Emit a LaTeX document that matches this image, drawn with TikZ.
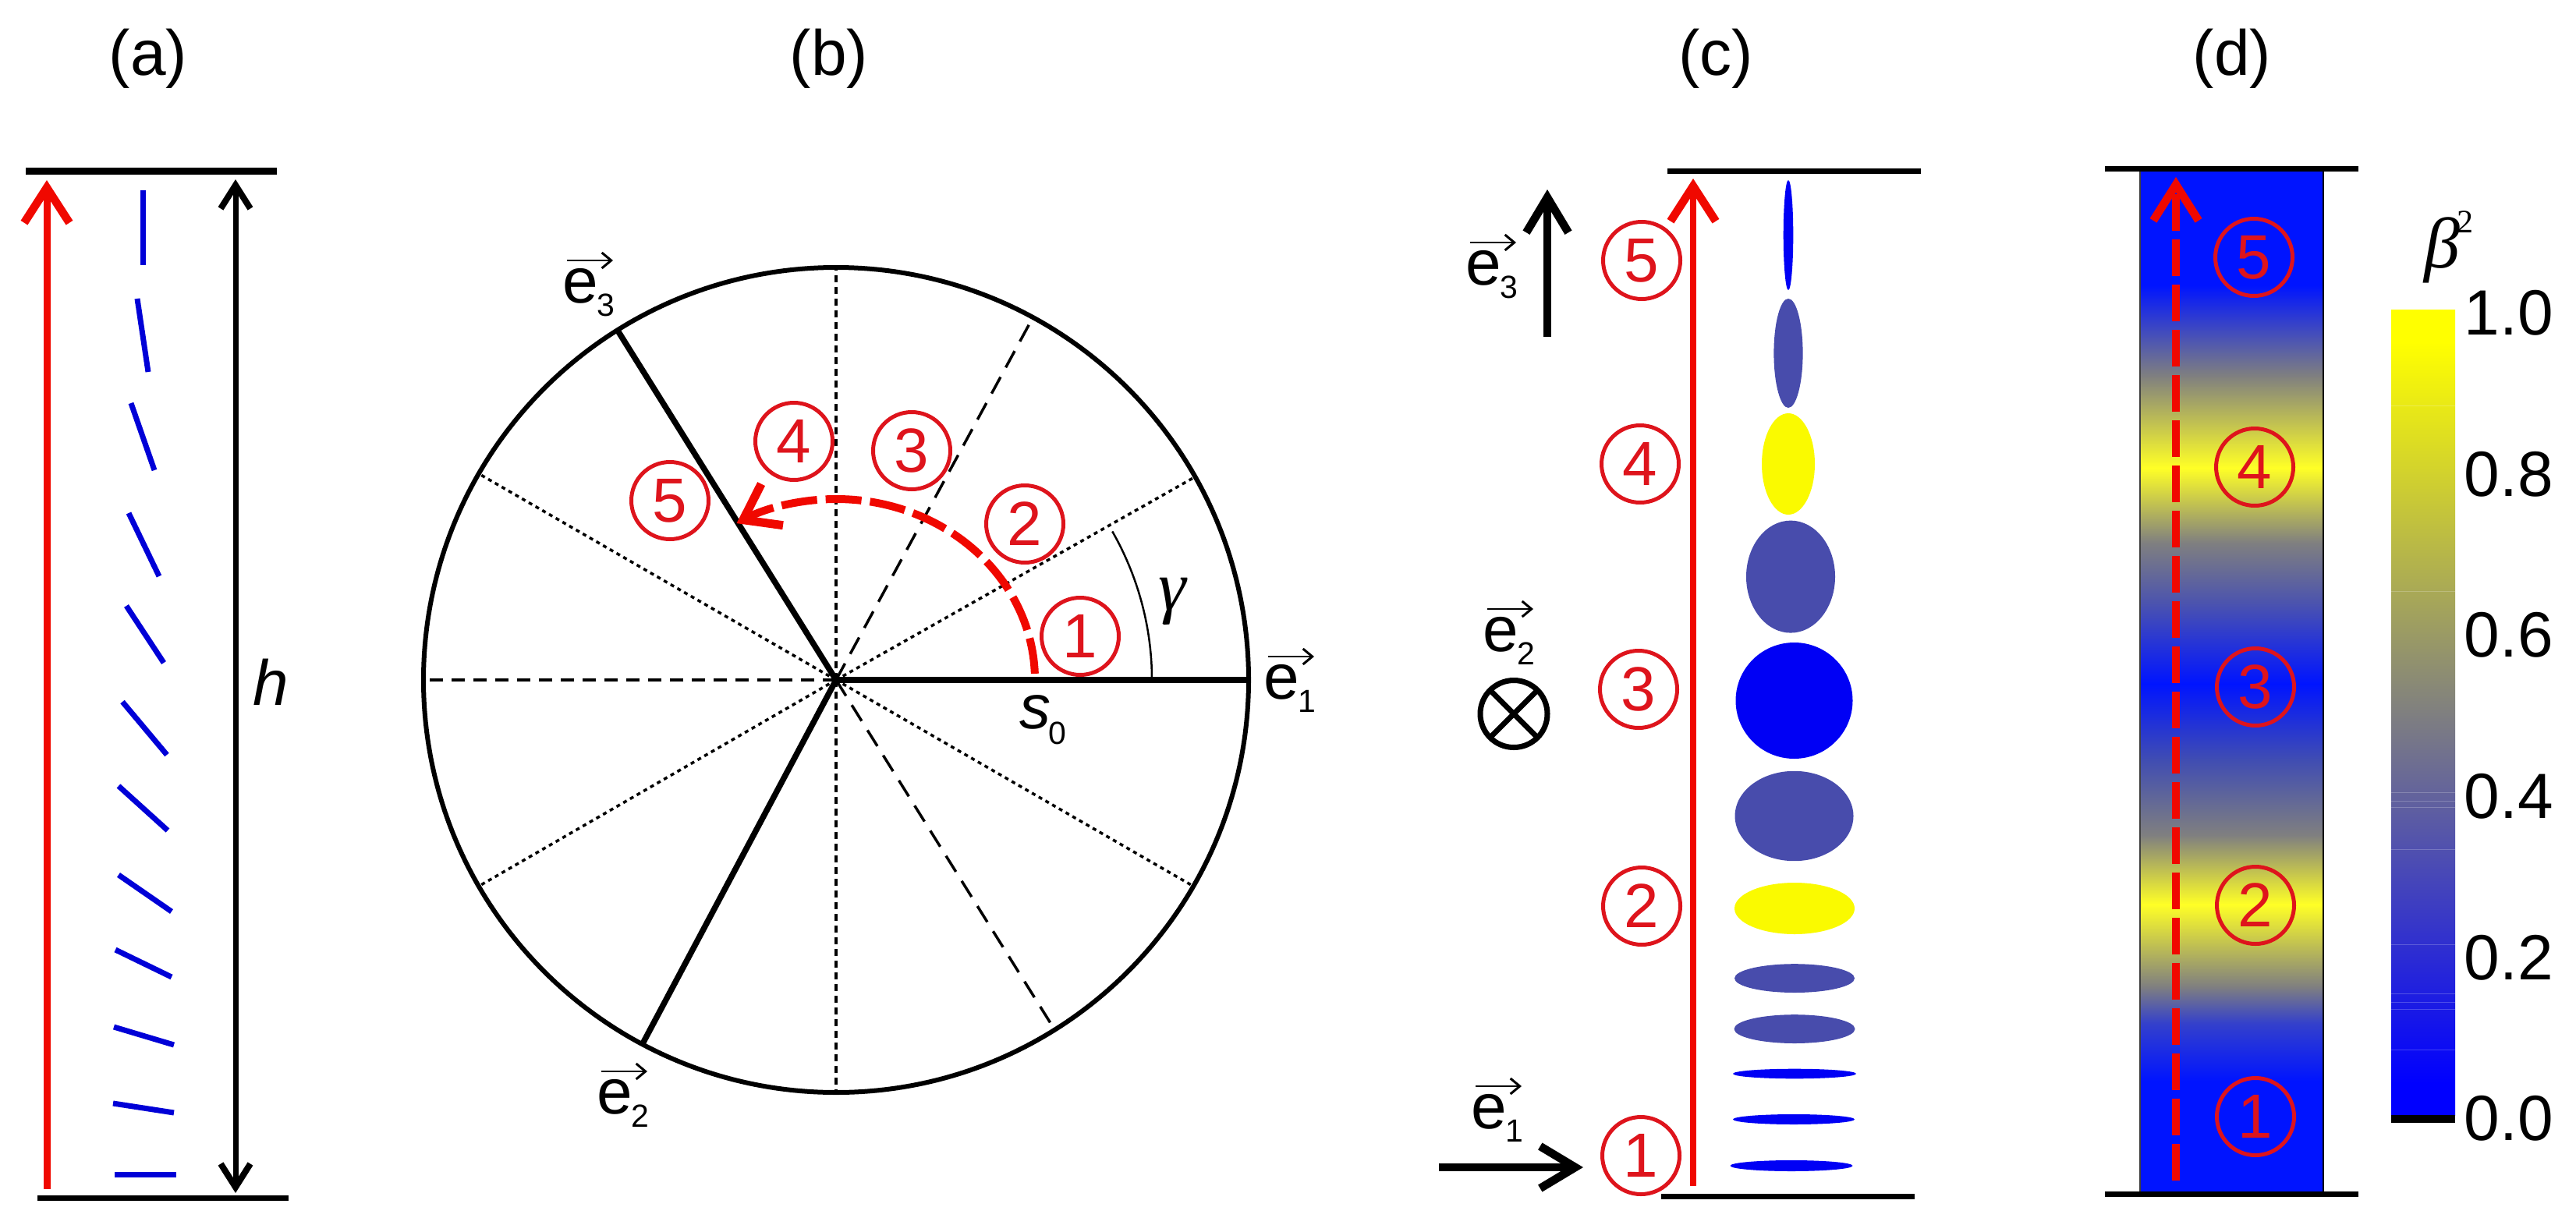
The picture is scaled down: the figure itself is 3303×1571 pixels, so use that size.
\documentclass[tikz,border=0pt]{standalone}
\usepackage{fontspec}
\setmainfont{Liberation Sans}
\newfontfamily\greekit{Liberation Serif}
\usetikzlibrary{arrows.meta,calc}
\definecolor{redA}{RGB}{240,8,0}
\definecolor{redC}{RGB}{222,20,28}
\definecolor{blueA}{RGB}{0,0,215}
\definecolor{blueE}{RGB}{0,0,245}
\definecolor{slate}{RGB}{72,76,172}
\definecolor{yell}{RGB}{250,250,0}
\pgfdeclareverticalshading{dgrad}{100bp}{
 rgb(0bp)=(0,.08,1); rgb(25bp)=(0,.08,1); rgb(30.51bp)=(0,.08,1); rgb(33.29bp)=(.2,.25,.8);
 rgb(35.11bp)=(.5,.5,.5); rgb(39.11bp)=(1,1,.15); rgb(42.49bp)=(.5,.5,.5);
 rgb(46.18bp)=(.25,.3,.7); rgb(49.87bp)=(0,.08,1); rgb(53.86bp)=(.3,.33,.68);
 rgb(56.75bp)=(.5,.5,.5); rgb(60.4bp)=(1,1,.15); rgb(64.88bp)=(.5,.5,.5);
 rgb(69.29bp)=(0,.08,1); rgb(75bp)=(0,.08,1); rgb(100bp)=(0,.08,1)}
\pgfdeclareverticalshading{bargrad}{100bp}{
 rgb(0bp)=(0,0,1); rgb(25bp)=(0,0,1); rgb(27bp)=(0,0,1); rgb(50bp)=(.5,.5,.5);
 rgb(73bp)=(1,1,0); rgb(75bp)=(1,1,0); rgb(100bp)=(1,1,0)}
\tikzset{
 x=1pt,y=-1pt,
 lab/.style={inner sep=0pt,font=\fontsize{82pt}{90pt}\selectfont},
 sublab/.style={inner sep=0pt,font=\fontsize{41pt}{45pt}\selectfont},
 circ/.style={circle,draw=redC,line width=5pt,minimum size=99pt,inner sep=0pt,text=redC,font=\fontsize{80pt}{88pt}\selectfont},
 rule/.style={line width=7pt,black},
 dir/.style={line width=7pt,blueA},
 bigred/.style={line width=9pt,redA,-{Straight Barb[length=45pt,width=58pt,line width=10.5pt]}},
 bigblack/.style={line width=9.5pt,black,-{Straight Barb[length=45pt,width=54pt,line width=10.5pt]}},
 harrow/.style={line width=7pt,black,{Straight Barb[length=30pt,width=38pt,line width=8pt]}-{Straight Barb[length=30pt,width=38pt,line width=8pt]}},
 thinarrow/.style={line width=2.5pt,black,-{Straight Barb[length=12pt,width=20pt,line width=3pt]}},
 solidspoke/.style={line width=7.5pt,black},
 longdash/.style={line width=3.5pt,black,dash pattern=on 24pt off 14pt},
 middash/.style={line width=3.5pt,black,dash pattern=on 17pt off 11pt},
 shortdash/.style={line width=3.5pt,black,dash pattern=on 9pt off 6pt},
 dotline/.style={line width=3.5pt,black,dash pattern=on 5pt off 5pt},
}
\newcommand\evec[4]{%
 \node[lab] (#1) at (#2,#3) {e};
 \node[sublab] (#1s) at ([shift={(33,24)}]#1.center) {#4};
 \draw[thinarrow] ([shift={(-17,-33)}]#1.center) -- ([shift={(42,-33)}]#1.center);
}
\begin{document}
\begin{tikzpicture}
\useasboundingbox (0,0) rectangle (3303,1571);
% panel titles
\node[lab] (ta) at (190,75) {(a)};
\node[lab] (tb) at (1063,75) {(b)};
\node[lab] (tc) at (2200,75) {(c)};
\node[lab] (td) at (2862,75) {(d)};

% ---------- panel a
\draw[rule,line width=9pt] (33,219) -- (355,219);
\draw[rule] (48,1536) -- (370,1536);
\draw[bigred] (60,1525) -- (60,231);
\draw[harrow] (302,1530) -- (302,230);
\node[inner sep=0pt,font=\fontsize{82pt}{90pt}\selectfont\itshape] (hlab) at (347,875) {h};
\foreach \xa/\ya/\xb/\yb in {183/244/183/340,176/383/190/477,168/517/198/603,165/658/204/739,
 162/777/210/850,157/900/214/968,152/1008/215/1065,152/1122/220/1169,148/1218/220/1253,
 146/1317/223/1340,145/1415/223/1427,147/1506/226/1506}
 \draw[dir] (\xa,\ya) -- (\xb,\yb);

% ---------- panel b
\coordinate (cb) at (1072,872);
\foreach \a in {-29.5,-150,-210,-330} \draw[dotline] (cb) -- ++(\a:527);
\foreach \a in {-61.5,-302} \draw[longdash] (cb) -- ++(\a:527);
\draw[middash] (cb) -- ++(-180:527);
\draw[shortdash] (cb) -- ++(-90:527);
\draw[shortdash] (cb) -- ++(-270:527);
\draw[solidspoke] (cb) -- ++(0:527);
\draw[solidspoke] (cb) -- ++(-122:527);
\draw[solidspoke] (cb) -- ++(-242:527);
\draw[line width=6pt,black] (cb) circle[radius=529];
\draw[line width=2.5pt,black] ($(cb)+(-29:405 and 393)$) arc[start angle=-29,end angle=0,x radius=405,y radius=393];
\draw[line width=10pt,redA,dash pattern=on 46pt off 11pt,-{Straight Barb[length=42pt,width=60pt,line width=11pt]}]
 ($(cb)+(-2:255 and 232)$) arc[start angle=-2,end angle=-120,x radius=255,y radius=232];
\node[circ] (b1) at (1385,816) {1};
\node[circ] (b2) at (1314,672) {2};
\node[circ] (b3) at (1169,578) {3};
\node[circ] (b4) at (1018,566) {4};
\node[circ] (b5) at (859,642) {5};
\node[inner sep=0pt,font=\greekit\itshape\fontsize{90pt}{95pt}\selectfont] (gam) at (1503,771) {γ};
\node[inner sep=0pt,font=\fontsize{80pt}{88pt}\selectfont\itshape] (s0) at (1327,913) {s};
\node[sublab] (s0i) at (1356,940) {0};
\evec{be1}{1643}{875}{1}
\evec{be2}{788}{1407}{2}
\evec{be3}{744}{367}{3}

% ---------- panel c
\draw[rule] (2138,219) -- (2463,219);
\draw[rule] (2130,1534) -- (2455,1534);
\draw[bigred,line width=8.5pt] (2171,1521) -- (2171,229);
\draw[bigblack] (1984,432) -- (1984,243);
\draw[bigblack] (1845,1497) -- (2030,1497);
\draw[line width=7pt,black] (1941,915.5) circle[radius=43];
\draw[line width=7pt,black] (1910.6,885.1) -- (1971.4,945.9);
\draw[line width=7pt,black] (1910.6,945.9) -- (1971.4,885.1);
\foreach \cx/\cy/\rx/\ry/\col in {2293/301.5/6.3/70.5/blueE,2293/453/18.6/70/slate,2293/595/34/65/yell,
 2296/739.6/57/72/slate,2300.5/898.5/75/74.5/blueE,2300.5/1046.5/76/57.7/slate,2301/1165/77/33/yell,
 2301/1254.6/77/18.4/slate,2301/1319.6/77.5/18.4/slate,2301/1377/79/6.3/blueE,2300/1435.5/78/6.5/blueE,
 2297/1495/78.5/7/blueE}
 \fill[\col] (\cx,\cy) ellipse[x radius=\rx,y radius=\ry];
\node[circ] (c1) at (2104,1482) {1};
\node[circ] (c2) at (2105,1162) {2};
\node[circ] (c3) at (2101,884) {3};
\node[circ] (c4) at (2103,595) {4};
\node[circ] (c5) at (2105,334) {5};
\evec{ce3}{1902}{344}{3}
\evec{ce2}{1924}{814}{2}
\evec{ce1}{1909}{1426}{1}

% ---------- panel d
\shade[shading=dgrad] (2744,216) rectangle (2979,1531);
\draw[line width=2.5pt,black!75] (2744,216) -- (2744,1531);
\draw[line width=2.5pt,black] (2979,216) -- (2979,1531);
\draw[rule] (2699,216) -- (3024,216);
\draw[rule] (2699,1531) -- (3024,1531);
\draw[line width=10pt,redA,dash pattern=on 47pt off 11pt,-{Straight Barb[length=46pt,width=58pt,line width=10.5pt]}] (2790,1514) -- (2790,227);
\node[circ] (d1) at (2892,1432) {1};
\node[circ] (d2) at (2892,1161) {2};
\node[circ] (d3) at (2892,881) {3};
\node[circ] (d4) at (2891,599) {4};
\node[circ] (d5) at (2890,330) {5};

% ---------- colour bar
\shade[shading=bargrad] (3066,397) rectangle (3148,1430);
\foreach \yy in {520,758,1016.5,1027,1035.5,1089,1211,1274,1285,1294,1346}
 \draw[line width=1pt,white,opacity=.22] (3066,\yy) -- (3148,\yy);
\fill[black] (3066,1430) rectangle (3148,1440);
\node[inner sep=0pt,font=\greekit\itshape\fontsize{92pt}{96pt}\selectfont] (beta) at (3131,321) {β};
\node[inner sep=0pt,font=\greekit\fontsize{42pt}{46pt}\selectfont] (beta2) at (3161,285) {2};
\foreach \lab/\yy in {1.0/401,0.8/608,0.6/814,0.4/1021,0.2/1228,0.0/1434}
 \node[lab,anchor=east] (t\yy) at (3274,\yy) {\lab};
\end{tikzpicture}
\end{document}
